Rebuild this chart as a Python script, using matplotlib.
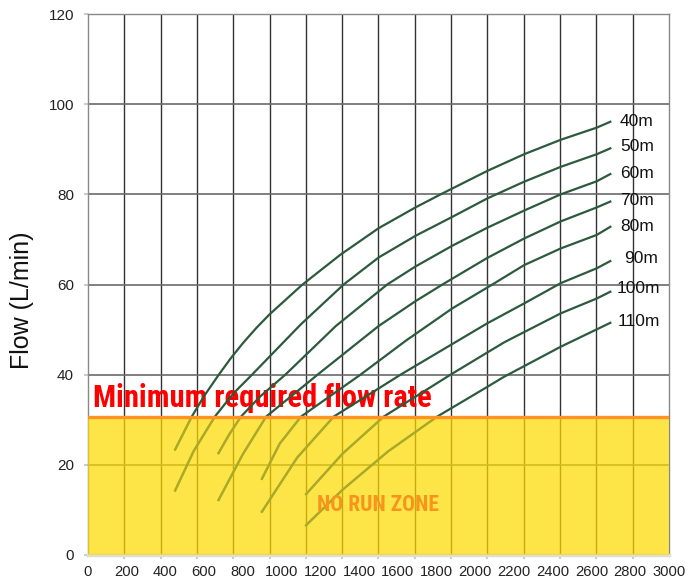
import numpy as np
import matplotlib.pyplot as plt
from matplotlib import font_manager
from matplotlib.patches import Rectangle

# head curves (x = label scale, y = flow L/min)
heads = ['40m', '50m', '60m', '70m', '80m', '90m', '100m', '110m']

x_40 = [450, 536, 600, 677, 740, 800, 870, 938, 1105, 1303, 1501, 1691, 1821, 2062, 2252, 2441, 2627, 2697]
y_40 = [23.4, 30.7, 35.3, 40.1, 43.8, 47.0, 50.4, 53.4, 59.9, 66.6, 72.5, 77.1, 80.0, 85.2, 88.9, 92.1, 94.8, 96.1]

x_50 = [450, 545, 655, 750, 847, 1100, 1320, 1501, 1691, 1881, 2062, 2252, 2441, 2627, 2697]
y_50 = [14.3, 23.0, 30.7, 35.8, 40.0, 51.2, 60.0, 66.0, 70.8, 75.0, 79.1, 82.8, 86.1, 88.9, 90.2]

x_60 = [674, 730, 790, 890, 1019, 1280, 1545, 1691, 1881, 2062, 2252, 2441, 2627, 2697]
y_60 = [22.6, 26.8, 30.7, 35.2, 40.0, 50.8, 60.0, 64.0, 68.6, 72.6, 76.4, 80.0, 82.9, 84.5]

x_70 = [674, 800, 920, 1200, 1501, 1691, 1838, 2062, 2252, 2441, 2627, 2697]
y_70 = [12.2, 22.4, 30.7, 40.5, 50.8, 56.3, 60.2, 65.9, 70.2, 74.0, 77.1, 78.4]

x_80 = [898, 990, 1100, 1407, 1640, 1881, 2088, 2252, 2441, 2627, 2697]
y_80 = [16.9, 24.7, 30.7, 40.0, 47.5, 54.7, 60.0, 64.3, 68.0, 71.0, 72.8]

x_90 = [898, 1080, 1269, 1614, 2062, 2252, 2441, 2627, 2697]
y_90 = [9.6, 21.6, 30.7, 40.0, 51.4, 55.8, 60.3, 63.6, 65.2]

x_100 = [1126, 1315, 1527, 1872, 2150, 2441, 2627, 2697]
y_100 = [13.5, 22.5, 30.7, 40.0, 47.2, 53.6, 56.9, 58.4]

x_110 = [1126, 1315, 1550, 1803, 2062, 2147, 2441, 2697]
y_110 = [6.6, 14.5, 23.0, 30.7, 37.3, 39.5, 46.2, 51.5]

curves_x = [x_40, x_50, x_60, x_70, x_80, x_90, x_100, x_110]
curves_y = [y_40, y_50, y_60, y_70, y_80, y_90, y_100, y_110]

min_flow = 30.7
x_ticks = list(range(0, 3001, 200))
y_ticks = list(range(0, 121, 20))

plt.rcParams['font.family'] = ['Liberation Sans', 'DejaVu Sans']

# find a narrow face for the red / orange captions, if there is one
narrow_family, narrow_stretch = 'DejaVu Sans', 'normal'
wanted = ['Roboto Condensed', 'Liberation Sans Narrow', 'Open Sans Condensed',
          'Noto Sans Condensed', 'DejaVu Sans Condensed']
names = {f.name for f in font_manager.fontManager.ttflist}
found = [w for w in wanted if w in names]
if found:
    narrow_family = found[0]
else:
    for f in font_manager.fontManager.ttflist:
        if 'condensed' in str(f.stretch) or 'Condensed' in f.fname or 'Narrow' in f.fname:
            narrow_family, narrow_stretch = f.name, f.stretch
            break

fig = plt.figure(figsize=(6.89, 5.85), dpi=100)
ax = fig.add_axes([88/689, 30/585, 581/689, 541/585])

ax.set_xlim(0, 3000)
ax.set_ylim(0, 120)

# vertical grid is on its own 16-step spacing, labels on 200 steps
ax.set_xticks(x_ticks)
ax.set_xticks(np.linspace(0, 3000, 17), minor=True)
ax.set_yticks(y_ticks)
ax.tick_params(axis='x', which='major', length=0, labelsize=10.6, labelcolor='#222222', pad=7)
ax.tick_params(axis='x', which='minor', length=3, color='#cccccc', width=1.5)
ax.tick_params(axis='y', length=3, color='#cccccc', width=1.5, labelsize=11, labelcolor='#222222', pad=7)
ax.grid(True, axis='x', which='minor', color='#333333', lw=1.0, zorder=0.5)
ax.grid(True, axis='y', which='major', color='#6a6a6a', lw=1.2, zorder=0.5)
ax.set_axisbelow(True)
for s in ax.spines.values():
    s.set_color('#888888')
    s.set_linewidth(1.0)
ax.spines['bottom'].set_color('#dddddd')
ax.spines['bottom'].set_linewidth(2.5)

ax.set_ylabel('Flow (L/min)', fontsize=18, color='#111111')
ax.yaxis.set_label_coords(-0.093, 0.47)

for cx, cy in zip(curves_x, curves_y):
    ax.plot(cx, cy, color='#2c5a3c', lw=1.6, zorder=2, solid_joinstyle='round')

# label offsets so the tags sit where they are in the picture
label_dx = [50, 50, 50, 50, 50, 70, 35, 38]
label_dy = [0, 0.3, 0.2, 0.3, 0, 0.6, 0.8, 0.3]
for cx, cy, name, dx, dy in zip(curves_x, curves_y, heads, label_dx, label_dy):
    ax.text(cx[-1] + dx, cy[-1] + dy, name, fontsize=12.5, va='center', ha='left',
            color='#111111', zorder=5)

# no-run zone
ax.axhspan(0, min_flow, color='#fedb00', alpha=0.72, lw=0, zorder=3)

# curves seen through the yellow band look olive
zone = Rectangle((0, 0), 3000, min_flow, transform=ax.transData, visible=False)
ax.add_patch(zone)
for cx, cy in zip(curves_x, curves_y):
    ln, = ax.plot(cx, cy, color='#a9a92c', lw=1.6, zorder=3.5, solid_joinstyle='round')
    ln.set_clip_path(zone)

ax.axhline(min_flow, color='#ff9424', lw=2.4, zorder=4)

ax.text(26, 32.9, 'Minimum required flow rate', fontsize=22, color='#ff0000', weight='bold',
        family=narrow_family, stretch=narrow_stretch, va='baseline', ha='left', zorder=1.5)
ax.text(1183, 9.8, 'NO RUN ZONE', fontsize=15.5, color='#f7941d', weight='bold',
        family=narrow_family, stretch=narrow_stretch, va='baseline', ha='left', zorder=5)

fig.savefig('out.png', dpi=100)
